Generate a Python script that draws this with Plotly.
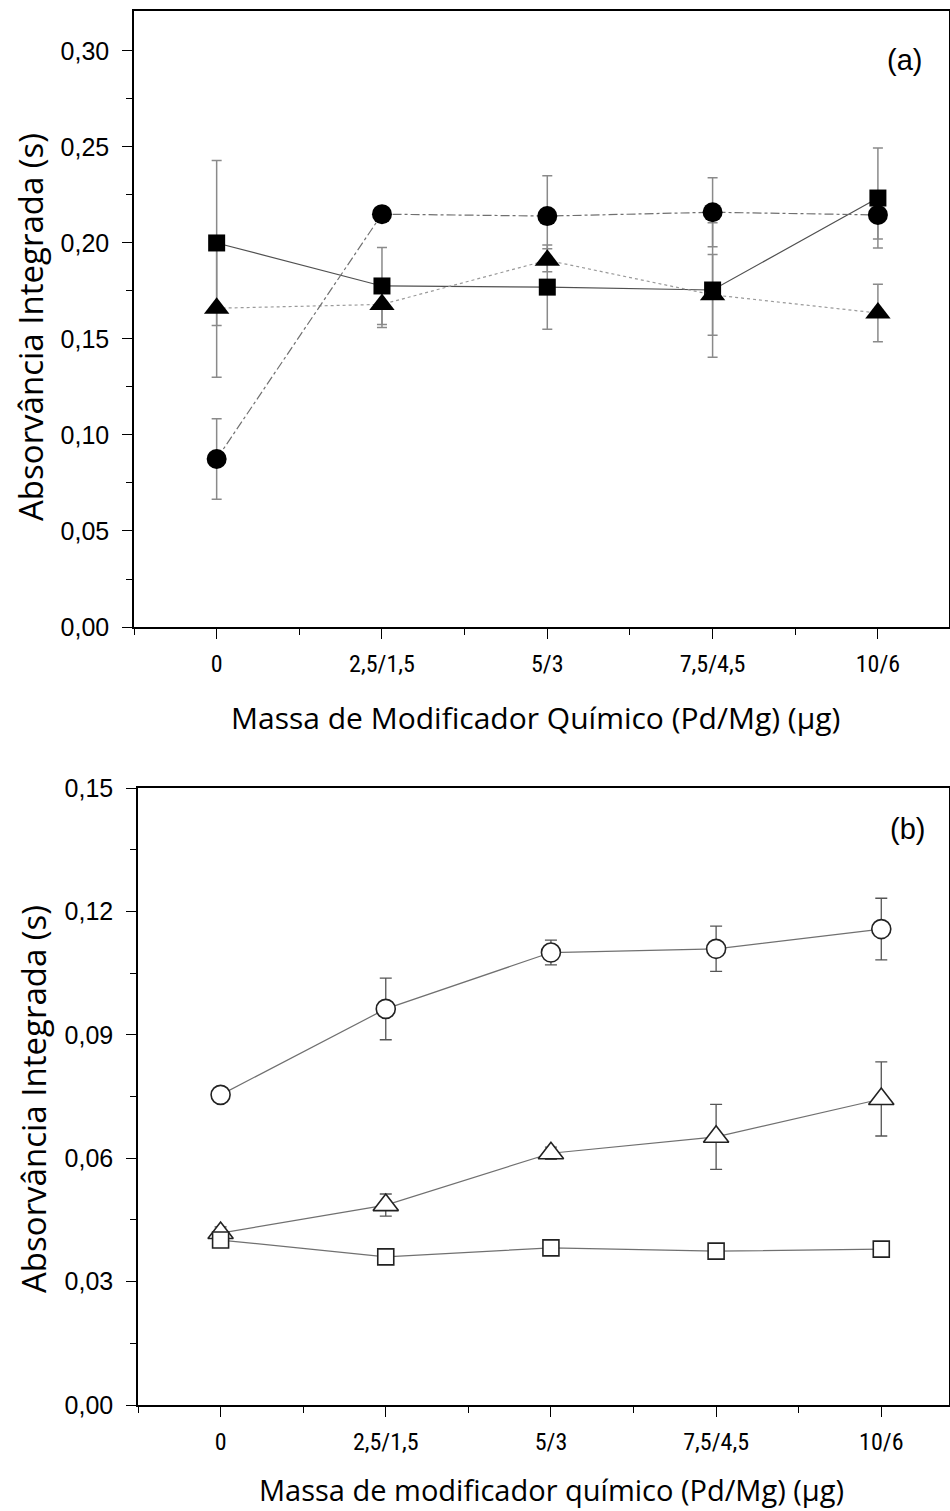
import plotly.graph_objects as go

# ---------------- data ----------------
categories = ["0", "2,5/1,5", "5/3", "7,5/4,5", "10/6"]
xpos = [0, 1, 2, 3, 4]

# panel (a)
a_square = [0.200, 0.1776, 0.177, 0.1755, 0.2234]
a_square_err = [0.043, 0.020, 0.022, 0.035, 0.026]
a_circle = [0.0875, 0.215, 0.214, 0.216, 0.2146]
a_circle_err = [0.021, 0.004, 0.021, 0.018, 0.0126]
a_triangle = [0.166, 0.168, 0.191, 0.173, 0.1635]
a_triangle_err = [0.036, 0.012, 0.006, 0.021, 0.015]

# panel (b)
b_circle = [0.0754, 0.0963, 0.110, 0.1109, 0.1157]
b_circle_err = [0.0012, 0.0075, 0.003, 0.0055, 0.0075]
b_triangle = [0.0418, 0.0486, 0.0612, 0.0652, 0.0744]
b_triangle_err = [0.0015, 0.0027, 0.0015, 0.0079, 0.009]
b_square = [0.0401, 0.036, 0.0382, 0.0374, 0.0379]
b_square_err = [0.0012, 0.0008, 0.0008, 0.0006, 0.0006]

W, H = 950, 1511

fig = go.Figure()

def px2x(p):
    return p / W

def px2y(p):
    return 1 - p / H

# ---- panel (a): error bars first ----
for vals, errs in [(a_square, a_square_err), (a_circle, a_circle_err), (a_triangle, a_triangle_err)]:
    fig.add_trace(go.Scatter(
        x=xpos, y=vals, mode="markers", xaxis="x", yaxis="y",
        marker=dict(size=1, color="rgba(0,0,0,0)"),
        error_y=dict(type="data", array=errs, visible=True, color="#8a8a8a", thickness=1.5, width=5),
        showlegend=False, hoverinfo="skip"))

fig.add_trace(go.Scatter(
    x=xpos, y=a_square, mode="lines+markers", xaxis="x", yaxis="y",
    line=dict(color="#505050", width=1.2, dash="solid"),
    marker=dict(symbol="square", size=17, color="black"), showlegend=False))
fig.add_trace(go.Scatter(
    x=xpos, y=a_triangle, mode="lines+markers", xaxis="x", yaxis="y",
    line=dict(color="#9a9a9a", width=1.2, dash="dot"),
    marker=dict(symbol="triangle-up", size=22, color="black"), showlegend=False))
fig.add_trace(go.Scatter(
    x=xpos, y=a_circle, mode="lines+markers", xaxis="x", yaxis="y",
    line=dict(color="#707070", width=1.2, dash="dashdot"),
    marker=dict(symbol="circle", size=20, color="black"), showlegend=False))

# ---- panel (b) ----
for vals, errs in [(b_circle, b_circle_err), (b_triangle, b_triangle_err), (b_square, b_square_err)]:
    fig.add_trace(go.Scatter(
        x=xpos, y=vals, mode="markers", xaxis="x2", yaxis="y2",
        marker=dict(size=1, color="rgba(0,0,0,0)"),
        error_y=dict(type="data", array=errs, visible=True, color="#555555", thickness=1.3, width=6),
        showlegend=False, hoverinfo="skip"))

for vals, sym, sz in [(b_circle, "circle", 19), (b_triangle, "triangle-up", 22), (b_square, "square", 16)]:
    fig.add_trace(go.Scatter(
        x=xpos, y=vals, mode="lines+markers", xaxis="x2", yaxis="y2",
        line=dict(color="#707070", width=1.2),
        marker=dict(symbol=sym, size=sz, color="white", line=dict(color="#222222", width=1.6)),
        showlegend=False))

tickfont_y = dict(family="Liberation Sans, Arial, sans-serif", size=25, color="black")
tickfont_x = dict(family="Liberation Sans Narrow, Arial Narrow, Roboto Condensed, Liberation Sans, sans-serif", size=24, color="black")

common_x = dict(
    tickmode="array", tickvals=xpos, ticktext=categories, automargin=False,
    showgrid=False, zeroline=False, showline=True, linecolor="black", linewidth=1.5,
    mirror=True, ticks="outside", ticklen=10, tickwidth=1.3, tickcolor="black",
    tickfont=tickfont_x, ticklabelstandoff=4,
    minor=dict(tickmode="array", tickvals=[-0.5, 0.5, 1.5, 2.5, 3.5], ticks="outside", ticklen=6, tickwidth=1.3, tickcolor="black"),
)
common_y = dict(
    showgrid=False, zeroline=False, showline=True, linecolor="black", linewidth=1.5, automargin=False,
    mirror=True, ticks="outside", ticklen=10, tickwidth=1.3, tickcolor="black",
    tickfont=tickfont_y, tickformat=".2f", ticklabelstandoff=8,
)

fig.update_layout(
    width=W, height=H,
    margin=dict(l=0, r=0, t=0, b=0, autoexpand=False),
    paper_bgcolor="white", plot_bgcolor="white",
    separators=",.",
    xaxis=dict(common_x, domain=[px2x(134), px2x(949)], range=[-0.5, 4.43], anchor="y"),
    yaxis=dict(common_y, domain=[px2y(627), px2y(11)], range=[0, 0.3208], anchor="x",
               tick0=0, dtick=0.05,
               minor=dict(dtick=0.025, ticks="outside", ticklen=6, tickwidth=1.3, tickcolor="black")),
    xaxis2=dict(common_x, domain=[px2x(138), px2x(949)], range=[-0.5, 4.41], anchor="y2"),
    yaxis2=dict(common_y, domain=[px2y(1405), px2y(788)], range=[0, 0.15], anchor="x2",
                tick0=0, dtick=0.03,
                minor=dict(dtick=0.015, ticks="outside", ticklen=6, tickwidth=1.3, tickcolor="black")),
)

xtitle_font = dict(family="Open Sans, Lato, sans-serif", size=30, color="black")
xtitle_font_b = dict(family="Open Sans, Lato, sans-serif", size=29, color="black")
ytitle_font = dict(family="Open Sans, Lato, sans-serif", size=33, color="black")
label_font = dict(family="Liberation Sans, Arial, sans-serif", size=29, color="black")

def ann(text, xp, yp, font, angle=0):
    return dict(text=text, x=px2x(xp), y=px2y(yp), xref="paper", yref="paper",
                xanchor="center", yanchor="middle", showarrow=False, font=font, textangle=angle)

annotations = [
    ann("(a)", 904, 60, label_font),
    ann("(b)", 907, 829, label_font),
    ann("Massa de Modificador Químico (Pd/Mg) (µg)", 535, 717, xtitle_font),
    ann("Absorvância Integrada (s)", 31, 327, ytitle_font, -90),
    ann("Massa de modificador químico (Pd/Mg) (µg)", 551, 1489, xtitle_font_b),
    ann("Absorvância Integrada (s)", 33, 1099, ytitle_font, -90),
]
fig.update_layout(annotations=annotations)

fig.write_html("out.html", config={"displayModeBar": False},
               post_script="document.body.style.margin='0';document.body.style.overflow='hidden';")
